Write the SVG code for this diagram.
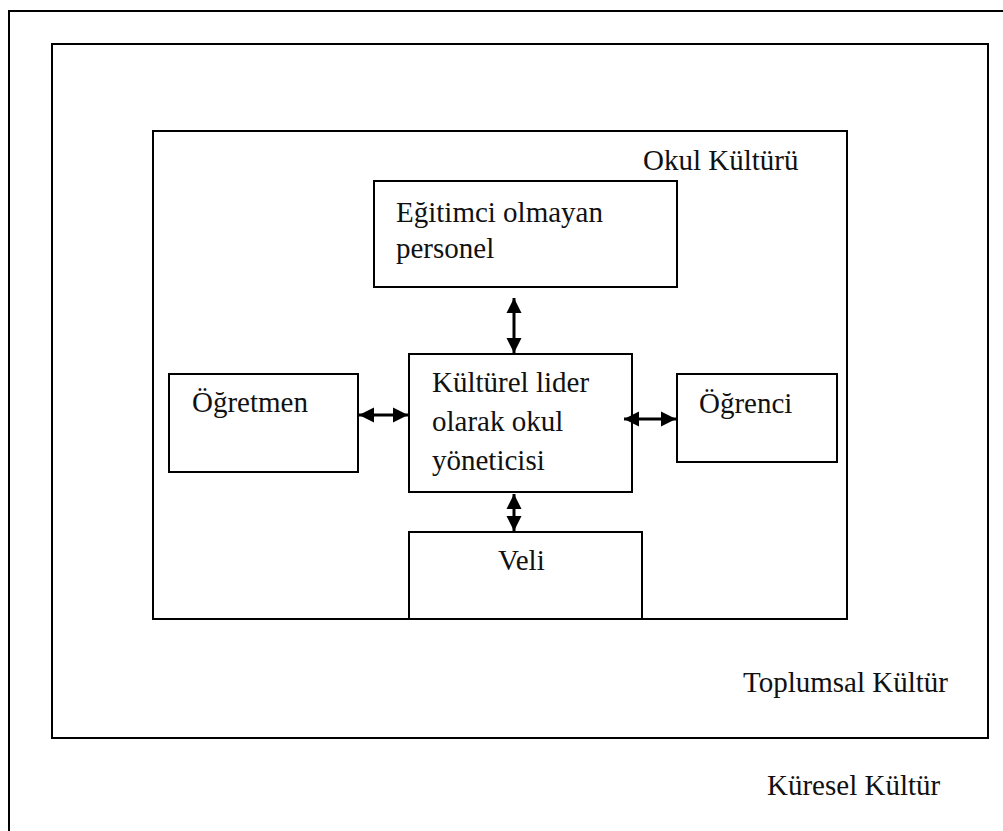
<svg xmlns="http://www.w3.org/2000/svg" width="1003" height="831" viewBox="0 0 1003 831">
<style>
.box{fill:none;stroke:#000;stroke-width:2}
.nb{fill:#fff;stroke:#000;stroke-width:2}
text{font-family:"Liberation Serif","Times New Roman",serif;font-size:29px;fill:#111}
.c{stroke:#000;stroke-width:3;fill:none;marker-start:url(#ah);marker-end:url(#ah)}
</style>
<defs>
<marker id="ah" viewBox="0 0 10 10" refX="10" refY="5" markerWidth="5" markerHeight="5.5" orient="auto-start-reverse" markerUnits="strokeWidth">
<path d="M0,0 L10,5 L0,10 Z" fill="#000"/>
</marker>
</defs>
<g id="global">
<rect class="box" x="9" y="11" width="1010" height="840"/>
<text x="767" y="795">Küresel Kültür</text>
</g>
<g id="toplumsal">
<rect class="box" x="52" y="44" width="936" height="694"/>
<text x="743" y="692">Toplumsal Kültür</text>
</g>
<g id="okul">
<rect class="box" x="153" y="131" width="694" height="488"/>
<text x="643" y="170">Okul Kültürü</text>
</g>
<g id="egitimci">
<rect class="nb" x="374" y="181" width="303" height="106"/>
<text x="396" y="222">Eğitimci olmayan</text>
<text x="396" y="258">personel</text>
</g>
<g id="lider">
<rect class="nb" x="409" y="354" width="223" height="138"/>
<text x="432" y="392">Kültürel lider</text>
<text x="432" y="431">olarak okul</text>
<text x="432" y="470">yöneticisi</text>
</g>
<g id="ogretmen">
<rect class="nb" x="169" y="374" width="189" height="98"/>
<text x="192" y="412">Öğretmen</text>
</g>
<g id="ogrenci">
<rect class="nb" x="677" y="374" width="160" height="88"/>
<text x="699" y="413">Öğrenci</text>
</g>
<g id="veli">
<path class="box" d="M409,619 V532 H642 V619"/>
<text x="498" y="570">Veli</text>
</g>
<g id="connectors">
<line class="c" x1="514" y1="298" x2="514" y2="353"/>
<line class="c" x1="359" y1="415" x2="408" y2="415"/>
<line class="c" x1="624" y1="419" x2="676" y2="419"/>
<line class="c" x1="514" y1="494" x2="514" y2="531"/>
</g>
</svg>
